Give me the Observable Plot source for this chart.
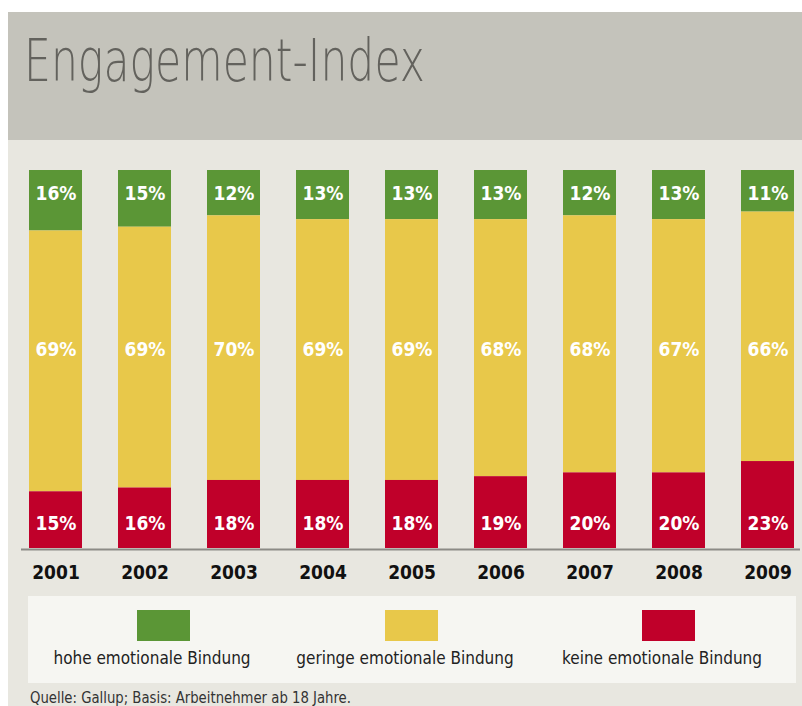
<!DOCTYPE html>
<html>
<head>
<meta charset="utf-8">
<script src="https://cdn.jsdelivr.net/npm/d3@7"></script>
<script src="https://cdn.jsdelivr.net/npm/@observablehq/plot@0.6"></script>
<style>
  html, body { margin: 0; padding: 0; background: #ffffff; }
  body { font-family: "DejaVu Sans", sans-serif; font-stretch: condensed; }
  #wrap { position: absolute; left: 8px; top: 12px; width: 794px; height: 694px; background: #e8e7e0; overflow: hidden; }
  #header { height: 128px; background: #c4c3bb; position: relative; }
  #title { position: absolute; left: 16px; top: 15px; font-size: 58px; color: #63625d; font-weight: 200; white-space: nowrap; transform-origin: 0 0; }
  #chart { height: 456px; }
  #chart svg { display: block; overflow: visible; }
  #legend { position: absolute; left: 20px; top: 584px; width: 768px; height: 87px; background: #f6f6f2; }
  .item { position: absolute; top: 0; width: 240px; text-align: center; }
  .sw { width: 53px; height: 31px; margin: 14px auto 0 auto; position: relative; }
  .lab { font-size: 17px; color: #222; margin-top: 7px; white-space: nowrap; }
  #caption { position: absolute; left: 22px; top: 676px; font-size: 16px; color: #333; white-space: nowrap; transform: scaleX(0.92); transform-origin: 0 0; }
</style>
</head>
<body>
<div id="wrap">
  <div id="header"><div id="title">Engagement-Index</div></div>
  <div id="chart"></div>
  <div id="legend"></div>
  <div id="caption">Quelle: Gallup; Basis: Arbeitnehmer ab 18 Jahre.</div>
</div>
<script>
const years = ["2001","2002","2003","2004","2005","2006","2007","2008","2009"];
const hohe = [16,15,12,13,13,13,12,13,11];
const geringe = [69,69,70,69,69,68,68,67,66];
const keine = [15,16,18,18,18,19,20,20,23];
const seriesNames = ["hohe emotionale Bindung","geringe emotionale Bindung","keine emotionale Bindung"];
const seriesColors = ["#5b9636","#e8c84a","#c0002a"];

const seriesValues = [hohe, geringe, keine];
const data = [];
years.forEach((yr, i) => {
  seriesNames.forEach((s, k) => data.push({year: yr, series: s, value: seriesValues[k][i]}));
});
const stackOrder = [seriesNames[2], seriesNames[1], seriesNames[0]];
const pct = d => d.value + "%";

const chart = Plot.plot({
  width: 794,
  height: 456,
  marginTop: 30,
  marginBottom: 48,
  marginLeft: 20,
  marginRight: 7,
  style: {background: "transparent", fontFamily: '"DejaVu Sans", sans-serif', fontStretch: "condensed", overflow: "visible"},
  x: {domain: years, paddingInner: 0.406, paddingOuter: 0, label: null},
  y: {domain: [0, 100], axis: null},
  color: {domain: seriesNames, range: seriesColors},
  marks: [
    Plot.barY(data, {x: "year", y: "value", fill: "series", order: stackOrder}),
    Plot.ruleY([0], {stroke: "#8c8b86", strokeWidth: 2, dy: 1, insetLeft: -7, insetRight: -5}),
    Plot.text(data, Plot.stackY2({x: "year", y: "value", z: "series", order: stackOrder,
      text: d => d.series === seriesNames[0] ? pct(d) : "",
      dy: 23, fill: "white", fontSize: 19, fontWeight: "bold"})),
    Plot.text(data.filter(d => d.series === seriesNames[1]), {x: "year", frameAnchor: "middle",
      text: pct, dy: -10, fill: "white", fontSize: 19, fontWeight: "bold"}),
    Plot.text(data, Plot.stackY1({x: "year", y: "value", z: "series", order: stackOrder,
      text: d => d.series === seriesNames[2] ? pct(d) : "",
      dy: -25, fill: "white", fontSize: 19, fontWeight: "bold"})),
    Plot.axisX({tickSize: 0, tickPadding: 17, fontSize: 19, fontWeight: "bold", fill: "#111", label: null})
  ]
});
document.getElementById("chart").appendChild(chart);

// legend layout: text centres inside the legend box, swatch offsets from them
const legendCenters = [124, 377, 634];
const swatchOffsets = [11, 6, 6];
const legend = document.getElementById("legend");
seriesNames.forEach((s, k) => {
  const item = document.createElement("div");
  item.className = "item";
  item.style.left = (legendCenters[k] - 120) + "px";
  const sw = document.createElement("div");
  sw.className = "sw";
  sw.style.background = seriesColors[k];
  sw.style.left = swatchOffsets[k] + "px";
  const lab = document.createElement("div");
  lab.className = "lab";
  lab.textContent = s;
  item.appendChild(sw);
  item.appendChild(lab);
  legend.appendChild(item);
});

// fit the title to the reference width
const title = document.getElementById("title");
const w = title.getBoundingClientRect().width;
if (w > 0) title.style.transform = "scaleX(" + (401 / w) + ")";
</script>
</body>
</html>
